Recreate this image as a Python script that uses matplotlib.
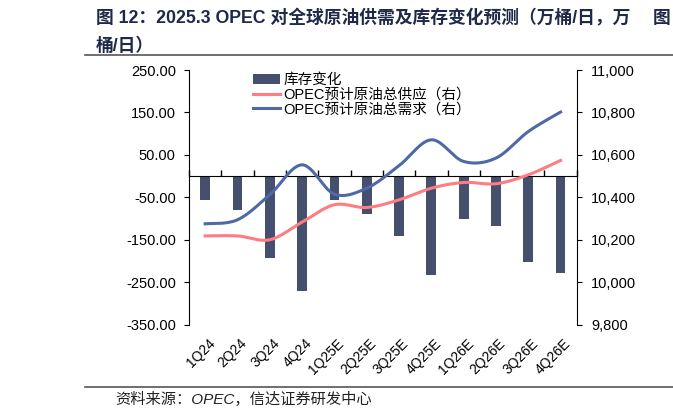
import numpy as np
import matplotlib
matplotlib.use("Agg")
import matplotlib.pyplot as plt
import matplotlib.transforms as mtrans
from matplotlib.ticker import FuncFormatter

plt.rcParams['font.family'] = ['Liberation Sans', 'Noto Sans CJK SC', 'DejaVu Sans']

# data
quarters = ['1Q24', '2Q24', '3Q24', '4Q24', '1Q25E', '2Q25E', '3Q25E', '4Q25E',
            '1Q26E', '2Q26E', '3Q26E', '4Q26E']
stock_change = [-56, -80, -193, -270, -57, -89, -142, -233, -101, -117, -203, -229]
supply = [10218, 10218, 10200, 10283, 10365, 10352, 10388, 10443, 10470, 10464, 10506, 10574]
demand = [10275, 10294, 10412, 10553, 10415, 10443, 10549, 10671, 10569, 10585, 10710, 10802]

left_ticks = [-350, -250, -150, -50, 50, 150, 250]
right_ticks = [9800, 10000, 10200, 10400, 10600, 10800, 11000]

BAR_C = '#44506e'
RED = '#ff7c80'
BLUE = '#4f68a6'
TITLE_C = '#1f2a48'


# smoothed line like the spreadsheet option (bezier through the points)
def smooth(x, y, n=30):
    x = np.asarray(x, float)
    y = np.asarray(y, float)
    px = np.concatenate([[x[0]], x, [x[-1]]])
    py = np.concatenate([[y[0]], y, [y[-1]]])
    t = np.linspace(0, 1, n, endpoint=False)
    xs, ys = [], []
    for i in range(1, len(px) - 2):
        for p, out in ((px, xs), (py, ys)):
            p0, p1, p2, p3 = p[i - 1], p[i], p[i + 1], p[i + 2]
            c1 = p1 + (p2 - p0) / 6
            c2 = p2 - (p3 - p1) / 6
            out.append((1 - t) ** 3 * p1 + 3 * (1 - t) ** 2 * t * c1 +
                       3 * (1 - t) * t ** 2 * c2 + t ** 3 * p2)
    xs.append([x[-1]])
    ys.append([y[-1]])
    return np.concatenate(xs), np.concatenate(ys)


fig = plt.figure(figsize=(6.73, 4.18), dpi=100)
ax = fig.add_axes([0.2808, 0.2234, 0.857 - 0.2808, 0.8325 - 0.2234])
ax2 = ax.twinx()

x = np.arange(len(quarters))
ax.bar(x, stock_change, width=0.3, color=BAR_C, label='库存变化', zorder=2)
ax.set_ylim(-350, 250)
ax.set_xlim(-0.5, len(quarters) - 0.5)
ax.set_yticks(left_ticks)
ax.yaxis.set_major_formatter(FuncFormatter(lambda v, p: f'{v:.2f}'))

sx, sy = smooth(x, supply)
dx, dy = smooth(x, demand)
l1, = ax2.plot(sx, sy, color=RED, lw=2.2, label='OPEC预计原油总供应（右）')
l2, = ax2.plot(dx, dy, color=BLUE, lw=2.2, label='OPEC预计原油总需求（右）')
ax2.set_ylim(9800, 11000)
ax2.set_yticks(right_ticks)
ax2.yaxis.set_major_formatter(FuncFormatter(lambda v, p: f'{v:,.0f}'))

# x axis on the zero line, small ticks between categories pointing up
ax.spines['bottom'].set_position(('data', 0))
ax.set_xticks(np.arange(len(quarters) + 1) - 0.5)
ax.set_xticklabels([])
ax.tick_params(axis='x', direction='in', length=4, width=1)
for a in (ax, ax2):
    a.spines['top'].set_visible(False)
ax2.spines['bottom'].set_visible(False)
ax.spines['right'].set_visible(False)
ax2.spines['left'].set_visible(False)
ax.tick_params(axis='y', direction='out', length=3.5, labelsize=10.5, pad=6)
ax2.tick_params(axis='y', direction='out', length=3.5, labelsize=10.5, pad=7)
ax2.tick_params(axis='x', bottom=False, labelbottom=False)

trans = mtrans.blended_transform_factory(ax.transData, ax.transAxes)
for i, q in enumerate(quarters):
    ax.text(i + 0.08, -0.045, q, transform=trans, rotation=45, rotation_mode='anchor',
            ha='right', va='top', fontsize=10)

h1, lb1 = ax.get_legend_handles_labels()
ax2.legend(h1 + [l1, l2], lb1 + [l1.get_label(), l2.get_label()],
           loc='upper left', bbox_to_anchor=(0.149, 1.011), frameon=False,
           fontsize=10.5, handlelength=1.9, handletextpad=0.2, labelspacing=0.05,
           borderaxespad=0)

# title, rules and source
fig.text(0.142, 0.955, '图 12：2025.3 OPEC 对全球原油供需及库存变化预测（万桶/日，万',
         fontsize=12.8, fontweight='bold', color=TITLE_C, va='center')
fig.text(0.970, 0.955, '图', fontsize=12.8, fontweight='bold', color=TITLE_C, va='center')
fig.text(0.142, 0.890, '桶/日）', fontsize=12.8, fontweight='bold', color=TITLE_C, va='center')
fig.add_artist(plt.Line2D([0.126, 1.0], [0.868, 0.868], color='#555555', lw=1.2))
fig.add_artist(plt.Line2D([0.126, 1.0], [0.0734, 0.0734], color='#555555', lw=1.2))
fig.text(0.171, 0.045, '资料来源：OPEC，信达证券研发中心', fontsize=11,
         color='#222222', va='center', style='italic')

fig.savefig('out.png', dpi=100)
